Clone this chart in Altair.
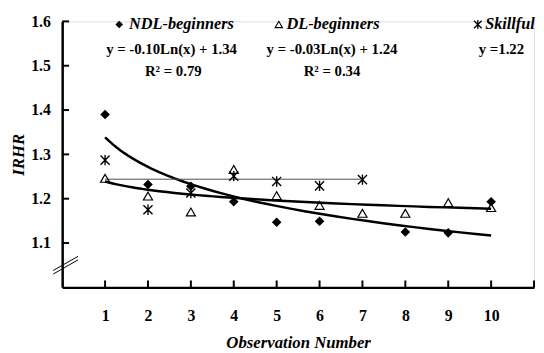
import altair as alt
import pandas as pd

# ---- data ----
ndl_x = [1, 2, 3, 4, 5, 6, 8, 9, 10]
ndl_y = [1.390, 1.232, 1.228, 1.193, 1.147, 1.149, 1.125, 1.123, 1.193]
dl_x = [1, 2, 3, 4, 5, 6, 7, 8, 9, 10]
dl_y = [1.246, 1.206, 1.170, 1.266, 1.207, 1.185, 1.167, 1.167, 1.191, 1.180]
sk_x = [1, 2, 3, 4, 5, 6, 7]
sk_y = [1.287, 1.175, 1.213, 1.251, 1.239, 1.229, 1.243]
sk_fit_y = 1.244
sk_fit_x = [1, 7]
x_ticks = [1, 2, 3, 4, 5, 6, 7, 8, 9, 10]
y_ticks = [1.1, 1.2, 1.3, 1.4, 1.5, 1.6]

FONT = "Liberation Serif"
W, H = 479, 270
ASTER = "M-1,-1L1,1M-1,1L1,-1M0,-1.15L0,1.15"

xs = alt.Scale(domain=[0, 11], nice=False, zero=False)
ys = alt.Scale(domain=[1.0, 1.6], nice=False, zero=False)

ndl = pd.DataFrame({"x": ndl_x, "y": ndl_y, "s": "NDL"})
dl = pd.DataFrame({"x": dl_x, "y": dl_y, "s": "DL"})
sk = pd.DataFrame({"x": sk_x, "y": sk_y, "s": "Sk"})
both = pd.concat([ndl, dl])

X = alt.X("x:Q", scale=xs, axis=alt.Axis(values=x_ticks, title="Observation Number", grid=False, ticks=False,
                                          domainColor="black", domainWidth=2.5, labelFont=FONT, labelFontWeight="bold",
                                          labelFontSize=16, labelColor="black", labelPadding=21, titleFont=FONT,
                                          titleFontWeight="bold", titleFontStyle="italic", titleFontSize=17,
                                          titleColor="black", titlePadding=11, labelFlush=False))
Y = alt.Y("y:Q", scale=ys, axis=alt.Axis(values=y_ticks, format=".1f", title="IRHR", grid=False, ticks=False,
                                          domainColor="black", domainWidth=2.5, labelFont=FONT, labelFontWeight="bold",
                                          labelFontSize=16, labelColor="black", labelPadding=12, titleFont=FONT,
                                          titleFontWeight="bold", titleFontStyle="italic", titleFontSize=17,
                                          titleColor="black", titlePadding=3))

curves = alt.Chart(both).transform_regression("x", "y", method="log", groupby=["s"]).mark_line(
    color="black", strokeWidth=2.5).encode(x=X, y=Y, detail="s:N")

sk_line = alt.Chart(pd.DataFrame({"x": [sk_fit_x[0]], "x2": [sk_fit_x[1]], "y": [sk_fit_y]})).mark_rule(
    color="#4d4d4d", strokeWidth=1).encode(x=alt.X("x:Q", scale=xs), x2="x2:Q", y=alt.Y("y:Q", scale=ys))

p_ndl = alt.Chart(ndl).mark_point(shape="diamond", filled=True, size=95, color="black", opacity=1).encode(
    x=alt.X("x:Q", scale=xs), y=alt.Y("y:Q", scale=ys))
p_dl = alt.Chart(dl).mark_point(shape="triangle-up", filled=False, size=85, color="black", strokeWidth=1.2,
                                opacity=1).encode(x=alt.X("x:Q", scale=xs), y=alt.Y("y:Q", scale=ys))
p_sk = alt.Chart(sk).mark_point(shape=ASTER, filled=False, size=85, color="black", strokeWidth=1.4,
                                opacity=1).encode(x=alt.X("x:Q", scale=xs), y=alt.Y("y:Q", scale=ys))

# legend (manual, placed in data space)
leg = pd.DataFrame({
    "sx": [1.33, 5.05, 9.69],
    "tx": [1.56, 5.23, 9.86],
    "y": [1.593, 1.593, 1.593],
    "label": ["NDL-beginners", "DL-beginners", "Skillful"],
})
leg_txt = alt.Chart(leg).mark_text(font=FONT, fontSize=16.5, fontWeight="bold", fontStyle="italic", align="left",
                                   baseline="middle", color="black").encode(
    x=alt.X("tx:Q", scale=xs), y=alt.Y("y:Q", scale=ys), text="label:N")
leg_d = alt.Chart(leg.iloc[[0]]).mark_point(shape="diamond", filled=True, size=60, color="black", opacity=1).encode(
    x=alt.X("sx:Q", scale=xs), y=alt.Y("y:Q", scale=ys))
leg_t = alt.Chart(leg.iloc[[1]]).mark_point(shape="triangle-up", filled=False, size=55, color="black",
                                            strokeWidth=1.1, opacity=1).encode(
    x=alt.X("sx:Q", scale=xs), y=alt.Y("y:Q", scale=ys))
leg_a = alt.Chart(leg.iloc[[2]]).mark_point(shape=ASTER, filled=False, size=60, color="black", strokeWidth=1.3,
                                            opacity=1).encode(x=alt.X("sx:Q", scale=xs), y=alt.Y("y:Q", scale=ys))

eq = pd.DataFrame({
    "x": [2.55, 2.59, 6.29, 6.29, 10.24],
    "y": [1.538, 1.487, 1.538, 1.487, 1.538],
    "t": ["y = -0.10Ln(x) + 1.34", "R² = 0.79", "y = -0.03Ln(x) + 1.24", "R² = 0.34", "y =1.22"],
})
eq_txt = alt.Chart(eq).mark_text(font=FONT, fontSize=15, fontWeight="bold", align="center", baseline="middle",
                                 color="black").encode(x=alt.X("x:Q", scale=xs), y=alt.Y("y:Q", scale=ys), text="t:N")

# inward axis ticks
xt = alt.Chart(pd.DataFrame({"x": x_ticks + [11]})).mark_rule(color="black", strokeWidth=2).encode(
    x=alt.X("x:Q", scale=xs), y=alt.value(H), y2=alt.value(H - 7))
yt = alt.Chart(pd.DataFrame({"y": y_ticks})).mark_rule(color="black", strokeWidth=2).encode(
    y=alt.Y("y:Q", scale=ys), x=alt.value(0), x2=alt.value(7))

# axis break marks (two slanted strokes across the y axis)
brk_df = pd.DataFrame({"x1": [-0.21, -0.21], "x2": [0.37, 0.37], "y1": [1.030, 1.038], "y2": [1.062, 1.070]})
brk = alt.Chart(brk_df).mark_rule(color="black", strokeWidth=1).encode(
    x=alt.X("x1:Q", scale=xs), x2="x2:Q", y=alt.Y("y1:Q", scale=ys), y2="y2:Q")

layers = alt.layer(curves, sk_line, p_dl, p_sk, p_ndl, leg_txt, leg_d, leg_t, leg_a, eq_txt, xt, yt, brk).properties(
    width=W, height=H, autosize=alt.AutoSizeParams(type="none"),
    padding={"left": 55, "top": 11, "right": 2, "bottom": 62})

chart = layers.configure_view(strokeWidth=0).configure(background="white")
chart.save("out.html", embed_options={"renderer": "svg", "actions": False})
